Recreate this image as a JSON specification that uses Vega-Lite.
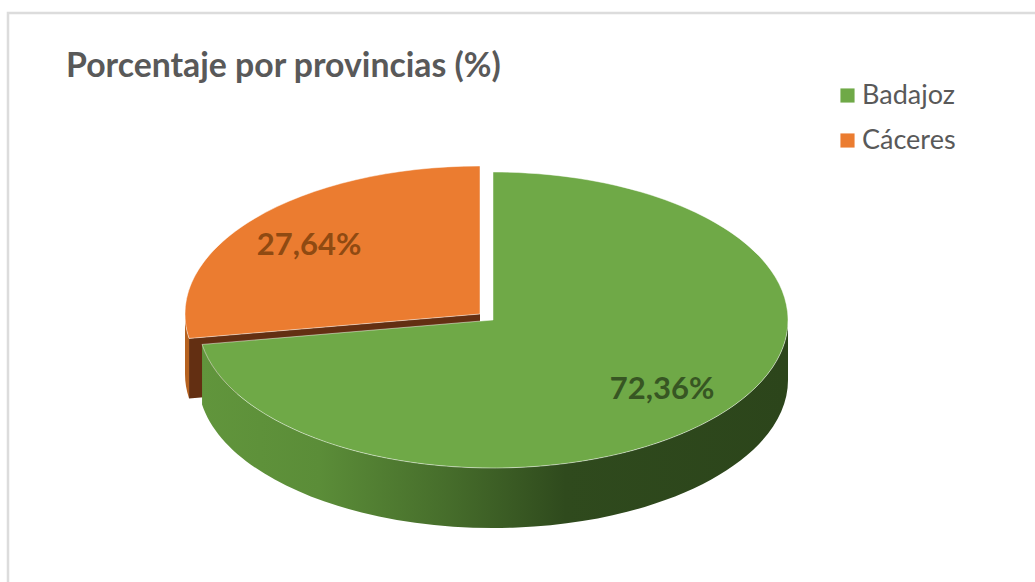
{
  "$schema": "https://vega.github.io/schema/vega-lite/v6.json",
  "autosize": "none",
  "padding": {"left": 8, "top": 13, "right": 0, "bottom": 0},
  "width": 1029,
  "height": 571,
  "background": "white",
  "view": {"stroke": "#dcdcdc", "strokeWidth": 2.5, "fill": "white"},
  "title": {
    "text": "Porcentaje por provincias (%)",
    "anchor": "start",
    "frame": "group",
    "orient": "top",
    "offset": 0,
    "dx": 58,
    "dy": 71,
    "font": "Lato",
    "fontSize": 33.8,
    "fontWeight": "bold",
    "color": "#595959"
  },
  "data": {"values": [
    {"provincia": "Badajoz", "porcentaje": 72.36},
    {"provincia": "Cáceres", "porcentaje": 27.64}
  ]},
  "transform": [
    {"stack": "porcentaje", "groupby": [], "sort": [{"field": "provincia", "order": "ascending"}], "as": ["p0", "p1"]},
    {"calculate": "round(295*sin(2*PI*datum.p0/100)*100)/100", "as": "ax"},
    {"calculate": "round(-148*cos(2*PI*datum.p0/100)*100)/100", "as": "ay"},
    {"calculate": "round(295*sin(2*PI*datum.p1/100)*100)/100", "as": "bx"},
    {"calculate": "round(-148*cos(2*PI*datum.p1/100)*100)/100", "as": "by"},
    {"calculate": "max(datum.p0,25)", "as": "w0"},
    {"calculate": "min(datum.p1,75)", "as": "w1"},
    {"calculate": "round(295*sin(2*PI*datum.w0/100)*100)/100", "as": "cx"},
    {"calculate": "round(-148*cos(2*PI*datum.w0/100)*100)/100", "as": "cy"},
    {"calculate": "round(295*sin(2*PI*datum.w1/100)*100)/100", "as": "dx"},
    {"calculate": "round(-148*cos(2*PI*datum.w1/100)*100)/100", "as": "dy"},
    {"calculate": "'M0 0L'+datum.ax+' '+datum.ay+'A295 148 0 '+((datum.p1-datum.p0)>50?1:0)+' 1 '+datum.bx+' '+datum.by+'Z'", "as": "topPath"},
    {"calculate": "'M'+datum.cx+' '+datum.cy+'A295 148 0 0 1 '+datum.dx+' '+datum.dy+'L'+datum.dx+' '+(datum.dy+60)+'A295 148 0 0 0 '+datum.cx+' '+(datum.cy+60)+'Z'", "as": "wallPath"},
    {"calculate": "'M0 0L'+datum.ax+' '+datum.ay+'L'+datum.ax+' '+(datum.ay+60)+'L0 60Z'", "as": "cutPath"},
    {"calculate": "replace(format(datum.porcentaje,'.2f'),'.',',')+'%'", "as": "etiqueta"}
  ],
  "encoding": {
    "x": {"field": "provincia", "type": "nominal", "axis": null, "scale": {"type": "point", "padding": 0, "domain": ["Cáceres", "Badajoz"], "range": [472, 485]}},
    "y": {"field": "provincia", "type": "nominal", "axis": null, "scale": {"type": "point", "padding": 0, "domain": ["Cáceres", "Badajoz"], "range": [301, 307]}}
  },
  "layer": [
    {
      "transform": [{"filter": "datum.provincia === 'Cáceres'"}],
      "mark": {"type": "point", "filled": true, "opacity": 1, "fill": "#b5611f", "strokeWidth": 0},
      "encoding": {"shape": {"field": "wallPath", "type": "nominal", "scale": null}, "size": {"value": 4}}
    },
    {
      "transform": [{"filter": "datum.provincia === 'Cáceres'"}],
      "mark": {"type": "point", "filled": true, "opacity": 1, "fill": "#632f12", "strokeWidth": 0},
      "encoding": {"shape": {"field": "cutPath", "type": "nominal", "scale": null}, "size": {"value": 4}}
    },
    {
      "transform": [{"filter": "datum.provincia === 'Badajoz'"}],
      "mark": {
        "type": "point", "filled": true, "opacity": 1, "strokeWidth": 0,
        "fill": {
          "gradient": "linear", "x1": 0, "x2": 1, "y1": 0, "y2": 0,
          "stops": [
            {"offset": 0, "color": "#61953c"},
            {"offset": 0.2, "color": "#5b8d38"},
            {"offset": 0.42, "color": "#466d2b"},
            {"offset": 0.62, "color": "#2f4a1d"},
            {"offset": 1, "color": "#2c451b"}
          ]
        }
      },
      "encoding": {"shape": {"field": "wallPath", "type": "nominal", "scale": null}, "size": {"value": 4}}
    },
    {
      "mark": {"type": "point", "filled": true, "opacity": 1, "stroke": "#ffffff", "strokeWidth": 0.6, "strokeOpacity": 0.8},
      "encoding": {
        "shape": {"field": "topPath", "type": "nominal", "scale": null},
        "size": {"value": 4},
        "color": {
          "field": "provincia", "type": "nominal",
          "scale": {"domain": ["Badajoz", "Cáceres"], "range": ["#6fa947", "#eb7c30"]},
          "legend": {
            "orient": "none", "legendX": 826, "legendY": 69, "title": null,
            "symbolType": "square", "symbolSize": 200, "symbolStrokeWidth": 0, "symbolOpacity": 1,
            "labelFont": "Lato", "labelFontSize": 27, "labelColor": "#595959",
            "labelOffset": 1, "rowPadding": 17, "labelLimit": 200
          }
        }
      }
    },
    {
      "mark": {"type": "text", "font": "Lato", "fontWeight": "bold", "fontSize": 31, "align": "center", "baseline": "middle"},
      "encoding": {
        "x": {"field": "provincia", "type": "nominal", "axis": null, "scale": {"type": "point", "padding": 0, "domain": ["Cáceres", "Badajoz"], "range": [301, 654]}},
        "y": {"field": "provincia", "type": "nominal", "axis": null, "scale": {"type": "point", "padding": 0, "domain": ["Cáceres", "Badajoz"], "range": [233, 377]}},
        "text": {"field": "etiqueta", "type": "nominal"},
        "color": {"field": "provincia", "type": "nominal", "legend": null, "scale": {"domain": ["Badajoz", "Cáceres"], "range": ["#375623", "#8f4a12"]}}
      }
    }
  ],
  "resolve": {"scale": {"x": "independent", "y": "independent", "color": "independent"}}
}
